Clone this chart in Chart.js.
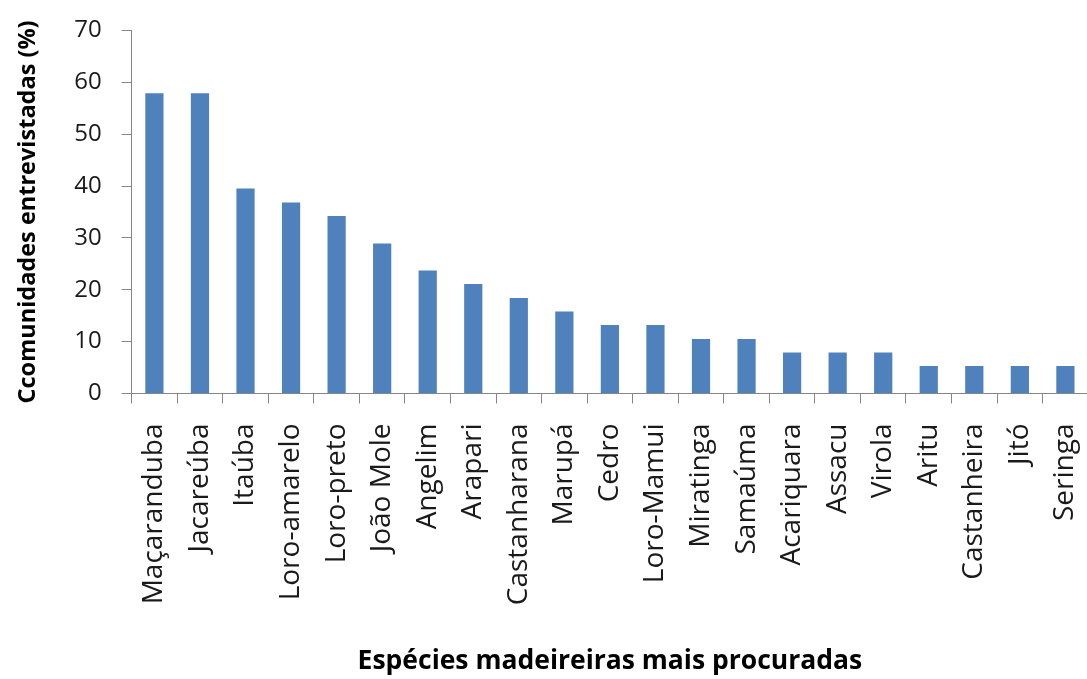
<!DOCTYPE html>
<html>
<head>
<meta charset="utf-8">
<script src="https://cdn.jsdelivr.net/npm/chart.js@4"></script>
<style>
  html, body { margin: 0; padding: 0; background: #fff; overflow: hidden; }
  /* the plot runs to the right edge of the page, so the canvas is a bit larger */
  #wrap { width: 1119px; height: 683px; position: relative; margin-top: -4px; }
</style>
</head>
<body>
<div id="wrap"><canvas id="species-chart"></canvas></div>
<script>
const especies = [
  'Maçaranduba', 'Jacareúba', 'Itaúba', 'Loro-amarelo', 'Loro-preto',
  'João Mole', 'Angelim', 'Arapari', 'Castanharana', 'Marupá', 'Cedro',
  'Loro-Mamui', 'Miratinga', 'Samaúma', 'Acariquara', 'Assacu', 'Virola',
  'Aritu', 'Castanheira', 'Jitó', 'Seringa',
]
const percentual = [
  57.9, 57.9, 39.5, 36.8, 34.2, 28.9, 23.7, 21.1, 18.4, 15.8, 13.2,
  13.2, 10.5, 10.5, 7.9, 7.9, 7.9, 5.3, 5.3, 5.3, 5.3,
]
const yMin = 0
const yMax = 70
const yStep = 10

const axisGray = '#868686'
const fontFamily = '"Open Sans", "Liberation Sans", sans-serif'

const ctx = document.getElementById('species-chart')

new Chart(ctx, {
  type: 'bar',
  data: {
    labels: especies,
    datasets: [
      {
        label: 'Comunidades (%)',
        data: percentual,
        backgroundColor: '#4f81bd',
        borderWidth: 0,
        categoryPercentage: 1,
        barPercentage: 0.4,
      },
    ],
  },
  options: {
    responsive: true,
    maintainAspectRatio: false,
    animation: false,
    layout: {
      padding: { top: 12, right: 0, bottom: 2, left: 14 },
    },
    scales: {
      x: {
        grid: {
          offset: true,
          drawOnChartArea: false,
          color: axisGray,
          tickLength: 10,
        },
        border: { color: axisGray, width: 1 },
        ticks: {
          minRotation: 90,
          maxRotation: 90,
          padding: 20,
          color: '#1a1a1a',
          font: { family: fontFamily, size: 28 },
        },
        title: {
          display: true,
          text: 'Espécies madeireiras mais procuradas',
          color: '#000',
          padding: { top: 20, bottom: 0 },
          font: { family: fontFamily, size: 26.5, weight: 'bold' },
        },
      },
      y: {
        min: yMin,
        max: yMax,
        grid: {
          drawOnChartArea: false,
          color: axisGray,
          tickLength: 10,
        },
        border: { color: axisGray, width: 1 },
        ticks: {
          stepSize: yStep,
          padding: 20,
          color: '#1a1a1a',
          font: { family: fontFamily, size: 24 },
        },
        title: {
          display: true,
          text: 'Ccomunidades entrevistadas (%)',
          color: '#000',
          padding: { top: 0, bottom: 12 },
          font: { family: fontFamily, size: 23.5, weight: 'bold' },
        },
      },
    },
    plugins: {
      legend: { display: false },
      tooltip: { enabled: false },
    },
  },
})
</script>
</body>
</html>
